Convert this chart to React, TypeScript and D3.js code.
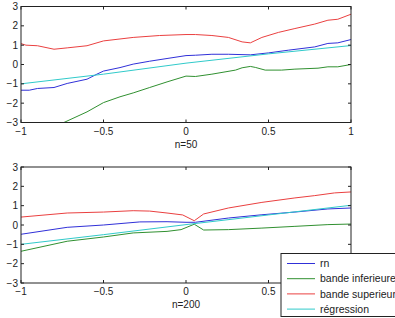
import React, { useRef, useEffect } from 'react';
import * as d3 from 'd3';

// n=50 panel
const top_x_rn = [-1, -0.95, -0.9, -0.8, -0.72, -0.6, -0.54, -0.5, -0.4, -0.32, -0.22, -0.115, 0, 0.057, 0.157, 0.257, 0.39, 0.5, 0.62, 0.78, 0.86, 0.92, 1];
const top_rn = [-1.33, -1.33, -1.24, -1.19, -0.98, -0.76, -0.5, -0.34, -0.16, 0.02, 0.17, 0.31, 0.46, 0.48, 0.53, 0.53, 0.5, 0.6, 0.74, 0.91, 1.09, 1.12, 1.29];
const top_x_low = [-1, -0.8, -0.74, -0.6, -0.5, -0.4, -0.32, -0.22, -0.115, 0, 0.057, 0.157, 0.3, 0.34, 0.39, 0.42, 0.48, 0.58, 0.66, 0.8, 0.86, 0.92, 1];
const top_low = [-4.0, -3.25, -3.0, -2.45, -1.97, -1.67, -1.47, -1.19, -0.9, -0.6, -0.62, -0.5, -0.29, -0.17, -0.1, -0.15, -0.29, -0.29, -0.24, -0.19, -0.12, -0.12, 0];
const top_x_up = [-1, -0.97, -0.9, -0.8, -0.72, -0.6, -0.5, -0.32, -0.16, 0, 0.057, 0.157, 0.257, 0.34, 0.39, 0.46, 0.56, 0.66, 0.78, 0.86, 0.92, 1];
const top_up = [1.08, 1.0, 0.97, 0.79, 0.86, 0.97, 1.22, 1.4, 1.5, 1.55, 1.55, 1.5, 1.4, 1.17, 1.12, 1.4, 1.66, 1.86, 2.09, 2.29, 2.34, 2.6];
const top_x_reg = [-1, -0.5, 0, 0.5, 1];
const top_reg = [-1.0, -0.5, 0.07, 0.55, 0.98];

// n=200 panel
const bot_x_rn = [-1, -0.72, -0.5, -0.28, -0.115, 0, 0.057, 0.257, 0.46, 0.66, 0.86, 1];
const bot_rn = [-0.48, -0.12, 0.0, 0.16, 0.17, 0.14, 0.14, 0.36, 0.53, 0.67, 0.83, 0.88];
const bot_x_low = [-1, -0.72, -0.5, -0.32, -0.115, -0.03, 0.05, 0.107, 0.257, 0.46, 0.66, 0.86, 1];
const bot_low = [-1.36, -0.84, -0.62, -0.41, -0.33, -0.24, 0.04, -0.26, -0.24, -0.16, -0.07, 0.02, 0.05];
const bot_x_up = [-1, -0.72, -0.5, -0.32, -0.22, -0.115, -0.02, 0.05, 0.107, 0.257, 0.46, 0.66, 0.78, 0.9, 1];
const bot_up = [0.41, 0.62, 0.67, 0.74, 0.72, 0.62, 0.52, 0.22, 0.57, 0.88, 1.17, 1.4, 1.52, 1.66, 1.71];
const bot_x_reg = [-1, -0.5, 0, 0.5, 1];
const bot_reg = [-1.0, -0.5, 0.02, 0.52, 1.02];

const xTicks = [-1, -0.5, 0, 0.5, 1];
const yTicks = [-3, -2, -1, 0, 1, 2, 3];
const seriesNames = ['rn', 'bande inferieure', 'bande superieure', 'régression'];
const colors = ['#3030d8', '#309030', '#ea4040', '#30caca'];

const panels = [
  { title: 'n=50', top: 6.5, series: [[top_x_rn, top_rn], [top_x_low, top_low], [top_x_up, top_up], [top_x_reg, top_reg]] },
  { title: 'n=200', top: 167, series: [[bot_x_rn, bot_rn], [bot_x_low, bot_low], [bot_x_up, bot_up], [bot_x_reg, bot_reg]] },
];

const App = () => {
  const svgRef = useRef<SVGSVGElement>(null);

  useEffect(() => {
    const width = 395;
    const height = 318;
    const left = 21;
    const right = 351;
    const ph = 116;
    const font = '"Liberation Sans", Arial, sans-serif';

    const svg = d3.select(svgRef.current);
    svg.selectAll('*').remove();
    svg.attr('width', width).attr('height', height);

    const x = d3.scaleLinear().domain([-1, 1]).range([left, right]);

    panels.forEach((p, pi) => {
      const y = d3.scaleLinear().domain([-3, 3]).range([p.top + ph, p.top]);
      const g = svg.append('g');

      g.append('clipPath').attr('id', 'clip' + pi)
        .append('rect').attr('x', left).attr('y', p.top).attr('width', right - left).attr('height', ph);

      const line = d3.line<[number, number]>().x(d => x(d[0])).y(d => y(d[1]));
      p.series.forEach((s, i) => {
        const pts = s[0].map((v, j) => [v, s[1][j]] as [number, number]);
        g.append('path')
          .attr('d', line(pts))
          .attr('fill', 'none')
          .attr('stroke', colors[i])
          .attr('stroke-width', 1)
          .attr('clip-path', `url(#clip${pi})`);
      });

      // box
      g.append('rect')
        .attr('x', left).attr('y', p.top).attr('width', right - left).attr('height', ph)
        .attr('fill', 'none').attr('stroke', '#222').attr('stroke-width', 1);

      // inward ticks
      xTicks.forEach(t => {
        g.append('line').attr('x1', x(t)).attr('x2', x(t)).attr('y1', p.top + ph).attr('y2', p.top + ph - 3).attr('stroke', '#222');
        g.append('line').attr('x1', x(t)).attr('x2', x(t)).attr('y1', p.top).attr('y2', p.top + 3).attr('stroke', '#222');
        // the legend hides the last label of the lower panel
        if (pi === 1 && t === 1) return;
        g.append('text').attr('x', x(t)).attr('y', p.top + ph + 12)
          .attr('text-anchor', 'middle').attr('font-family', font).attr('font-size', 10).attr('fill', '#222')
          .text(String(t).replace('-', '\u2212'));
      });
      yTicks.forEach(t => {
        g.append('line').attr('x1', left).attr('x2', left + 3).attr('y1', y(t)).attr('y2', y(t)).attr('stroke', '#222');
        g.append('line').attr('x1', right).attr('x2', right - 3).attr('y1', y(t)).attr('y2', y(t)).attr('stroke', '#222');
        g.append('text').attr('x', left - 3).attr('y', y(t)).attr('dy', '0.35em')
          .attr('text-anchor', 'end').attr('font-family', font).attr('font-size', 10).attr('fill', '#222')
          .text(String(t).replace('-', '\u2212'));
      });

      g.append('text').attr('x', 186).attr('y', p.top + ph + 25)
        .attr('text-anchor', 'middle').attr('font-family', font).attr('font-size', 10).attr('fill', '#222')
        .text(p.title);
    });

    // legend
    const lg = svg.append('g');
    lg.append('rect').attr('x', 281).attr('y', 253.5).attr('width', 130).attr('height', 63)
      .attr('fill', 'white').attr('stroke', '#222').attr('stroke-width', 1);
    seriesNames.forEach((name, i) => {
      const yy = 263.5 + i * 15.2;
      lg.append('line').attr('x1', 287).attr('x2', 315).attr('y1', yy).attr('y2', yy).attr('stroke', colors[i]);
      lg.append('text').attr('x', 320).attr('y', yy).attr('dy', '0.35em')
        .attr('font-family', font).attr('font-size', 10.5).attr('fill', '#222').text(name);
    });
  }, []);

  return <svg ref={svgRef} style={{ position: 'absolute', left: 0, top: 0, background: 'white' }} />;
};

export default App;
